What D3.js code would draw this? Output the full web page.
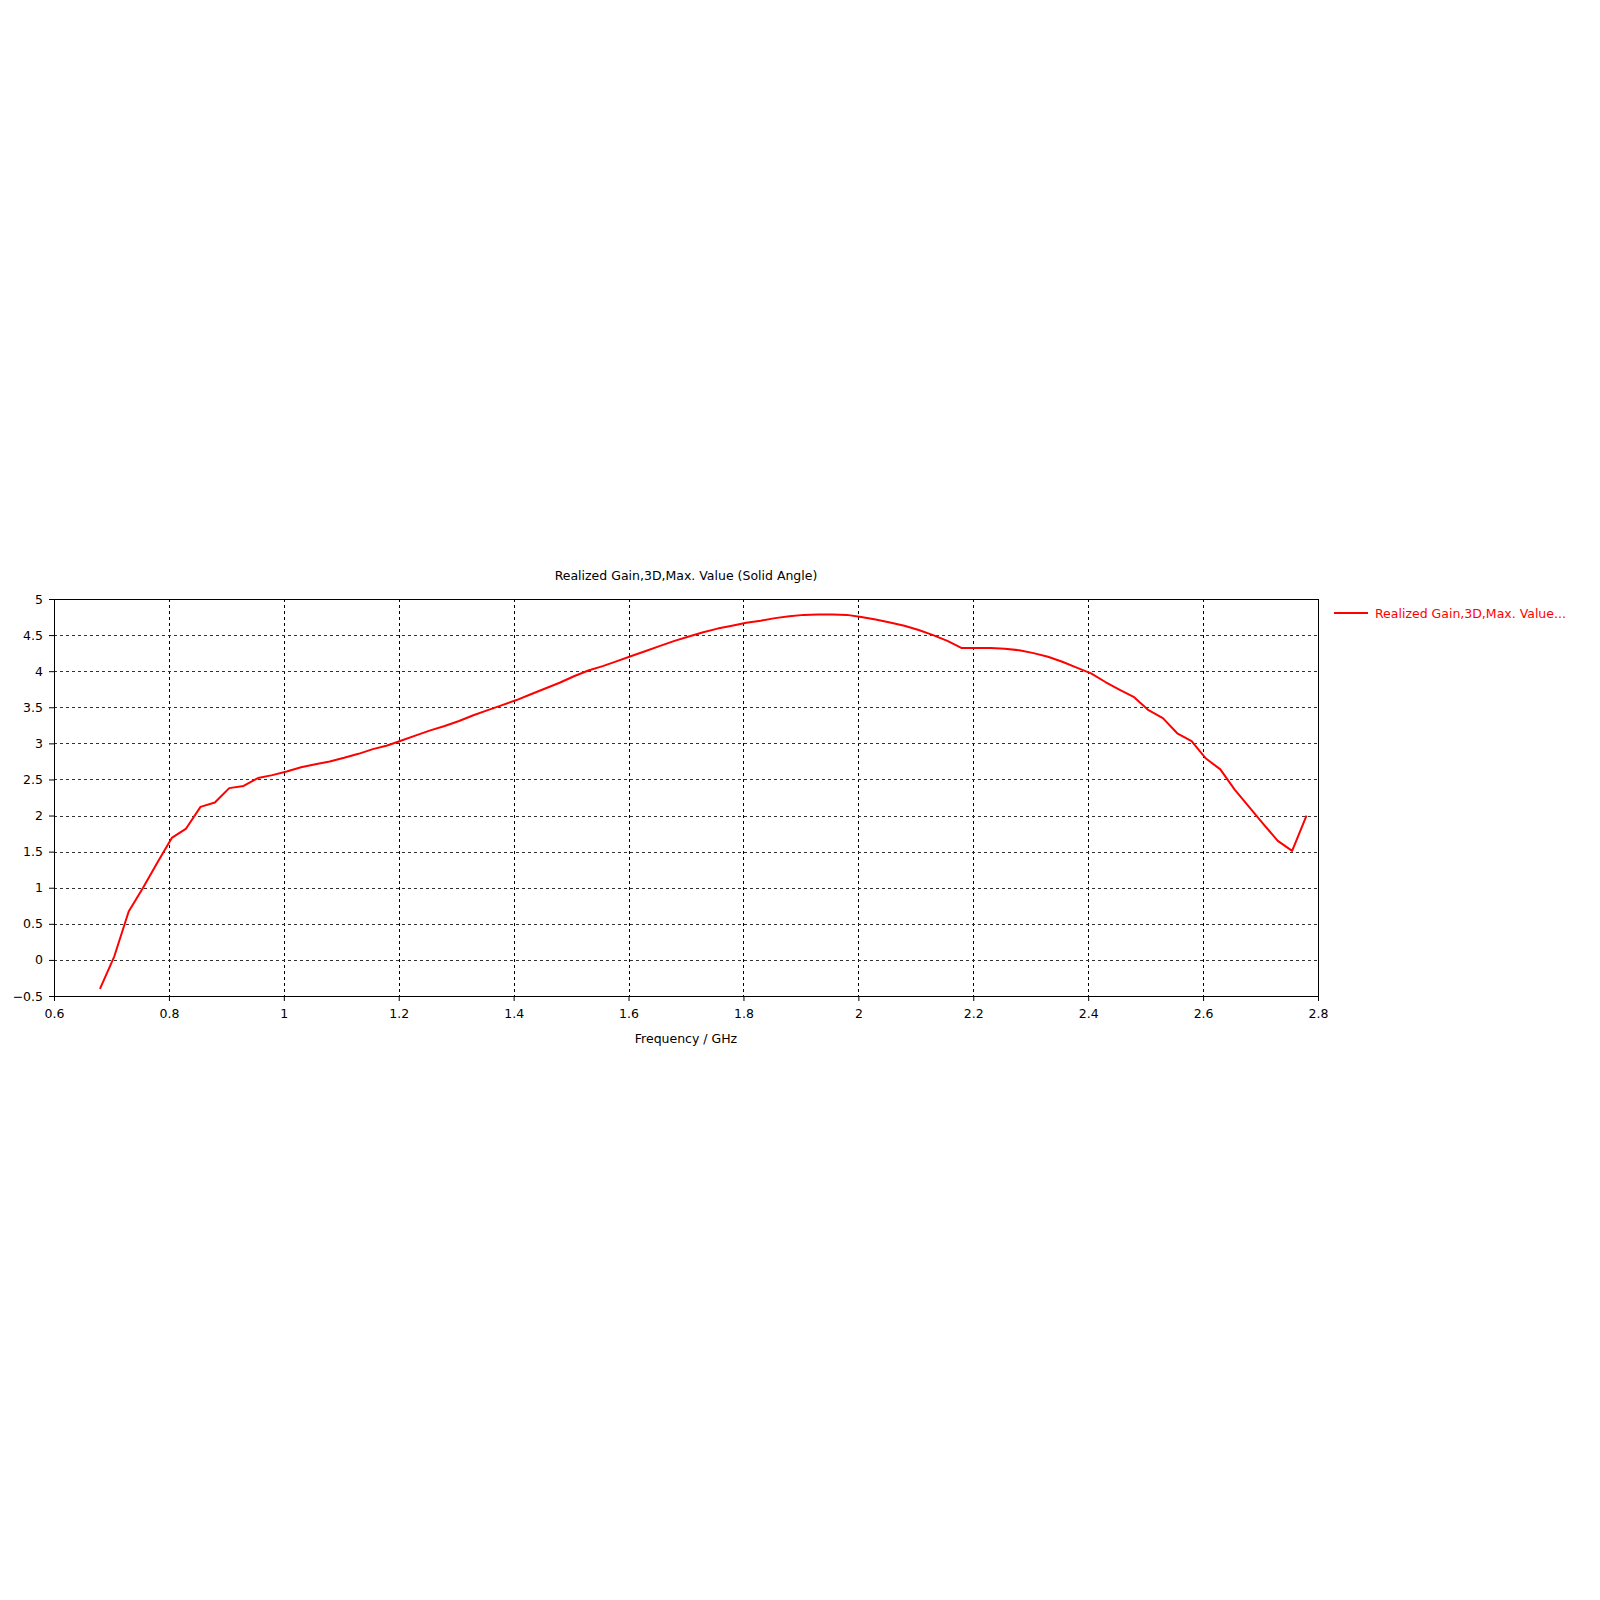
<!DOCTYPE html>
<html>
<head>
<meta charset="utf-8">
<script src="https://cdn.jsdelivr.net/npm/d3@7"></script>
<style>
  body { margin: 0; background: #fff; }
  text { font-family: "DejaVu Sans", sans-serif; font-size: 12.5px; }
</style>
</head>
<body>
<div id="chart"></div>
<script>
// frequency samples (GHz) and realized gain (dBi)
var freqs = [0.680, 0.705, 0.730, 0.755, 0.780, 0.805, 0.830, 0.855, 0.880, 0.905,
             0.930, 0.955, 0.980, 1.005, 1.030, 1.055, 1.080, 1.105, 1.130, 1.155,
             1.180, 1.205, 1.230, 1.255, 1.280, 1.305, 1.330, 1.355, 1.380, 1.405,
             1.430, 1.455, 1.480, 1.505, 1.530, 1.555, 1.580, 1.605, 1.630, 1.655,
             1.680, 1.705, 1.730, 1.755, 1.780, 1.805, 1.830, 1.855, 1.880, 1.905,
             1.930, 1.955, 1.980, 2.005, 2.030, 2.055, 2.080, 2.105, 2.130, 2.155,
             2.180, 2.205, 2.230, 2.255, 2.280, 2.305, 2.330, 2.355, 2.380, 2.405,
             2.430, 2.455, 2.480, 2.505, 2.530, 2.555, 2.580, 2.605, 2.630, 2.655,
             2.680, 2.705, 2.730, 2.755, 2.780];
var gain = [-0.40, 0.05, 0.67, 1.00, 1.35, 1.69, 1.82, 2.12, 2.18, 2.38,
            2.41, 2.52, 2.56, 2.61, 2.67, 2.71, 2.75, 2.80, 2.855, 2.92,
            2.97, 3.04, 3.11, 3.18, 3.24, 3.31, 3.39, 3.46, 3.53, 3.60,
            3.68, 3.76, 3.84, 3.93, 4.01, 4.07, 4.14, 4.21, 4.28, 4.35,
            4.42, 4.48, 4.54, 4.59, 4.63, 4.67, 4.70, 4.735, 4.76, 4.78,
            4.785, 4.785, 4.78, 4.75, 4.715, 4.675, 4.63, 4.57, 4.50, 4.42,
            4.32, 4.32, 4.32, 4.31, 4.29, 4.25, 4.20, 4.13, 4.05, 3.97,
            3.85, 3.74, 3.64, 3.46, 3.35, 3.14, 3.03, 2.79, 2.64, 2.36,
            2.12, 1.88, 1.65, 1.51, 2.00];
var xTicks = [0.6, 0.8, 1, 1.2, 1.4, 1.6, 1.8, 2, 2.2, 2.4, 2.6, 2.8];
var yTicks = [-0.5, 0, 0.5, 1, 1.5, 2, 2.5, 3, 3.5, 4, 4.5, 5];
var title = "Realized Gain,3D,Max. Value (Solid Angle)";
var xLabel = "Frequency / GHz";
var legendLabel = "Realized Gain,3D,Max. Value...";

var margin = {top: 599, right: 282, bottom: 604, left: 54},
    width = 1600 - margin.left - margin.right,
    height = 1600 - margin.top - margin.bottom;

var svg = d3.select("#chart")
  .append("svg")
    .attr("width", 1600)
    .attr("height", 1600)
  .append("g")
    .attr("transform", "translate(" + margin.left + "," + margin.top + ")");

var x = d3.scaleLinear().domain([0.6, 2.8]).range([0, width]);
var y = d3.scaleLinear().domain([-0.5, 5]).range([height, 0]);

// grid
svg.append("g")
  .selectAll("line")
  .data(xTicks.slice(1, -1))
  .enter()
  .append("line")
    .attr("x1", function(d) { return Math.round(x(d)) + 0.5; })
    .attr("x2", function(d) { return Math.round(x(d)) + 0.5; })
    .attr("y1", 0)
    .attr("y2", height)
    .attr("stroke", "#000")
    .attr("stroke-dasharray", "3,3");
svg.append("g")
  .selectAll("line")
  .data(yTicks.slice(1, -1))
  .enter()
  .append("line")
    .attr("x1", 0)
    .attr("x2", width)
    .attr("y1", function(d) { return Math.round(y(d)) + 0.5; })
    .attr("y2", function(d) { return Math.round(y(d)) + 0.5; })
    .attr("stroke", "#333")
    .attr("stroke-dasharray", "3,3");

// axes
var xAxis = svg.append("g")
  .attr("transform", "translate(0," + height + ")")
  .call(d3.axisBottom(x).tickValues(xTicks).tickSize(5).tickPadding(8).tickFormat(d3.format("")));
var yAxis = svg.append("g")
  .call(d3.axisLeft(y).tickValues(yTicks).tickSize(5).tickPadding(6).tickFormat(d3.format("")));
[xAxis, yAxis].forEach(function(a) {
  a.select(".domain").remove();
  a.selectAll("text").attr("fill", "#000").style("font-size", "12.5px").style("font-family", "DejaVu Sans");
  a.selectAll("line").attr("stroke", "#000");
});

// frame
svg.append("rect")
  .attr("x", 0.5).attr("y", 0.5)
  .attr("width", width).attr("height", height)
  .attr("fill", "none")
  .attr("stroke", "#000")
  .attr("stroke-width", 1);

// curve
var line = d3.line()
  .x(function(d, i) { return x(freqs[i]); })
  .y(function(d) { return y(d); });
svg.append("path")
  .datum(gain)
  .attr("d", line)
  .attr("fill", "none")
  .attr("stroke", "#ff0000")
  .attr("stroke-width", 2)
  .attr("stroke-linejoin", "round");

// texts
svg.append("text")
  .attr("x", width / 2)
  .attr("y", -19)
  .attr("text-anchor", "middle")
  .text(title);
svg.append("text")
  .attr("x", width / 2)
  .attr("y", height + 47)
  .attr("text-anchor", "middle")
  .text(xLabel);

// legend
var legend = svg.append("g")
  .attr("transform", "translate(" + (width + 16) + ",14)");
legend.append("line")
  .attr("x1", 0).attr("x2", 34)
  .attr("y1", 0).attr("y2", 0)
  .attr("stroke", "#ff0000")
  .attr("stroke-width", 2);
legend.append("text")
  .attr("x", 41)
  .attr("y", 4.5)
  .attr("fill", "#ff0000")
  .text(legendLabel);
</script>
</body>
</html>
